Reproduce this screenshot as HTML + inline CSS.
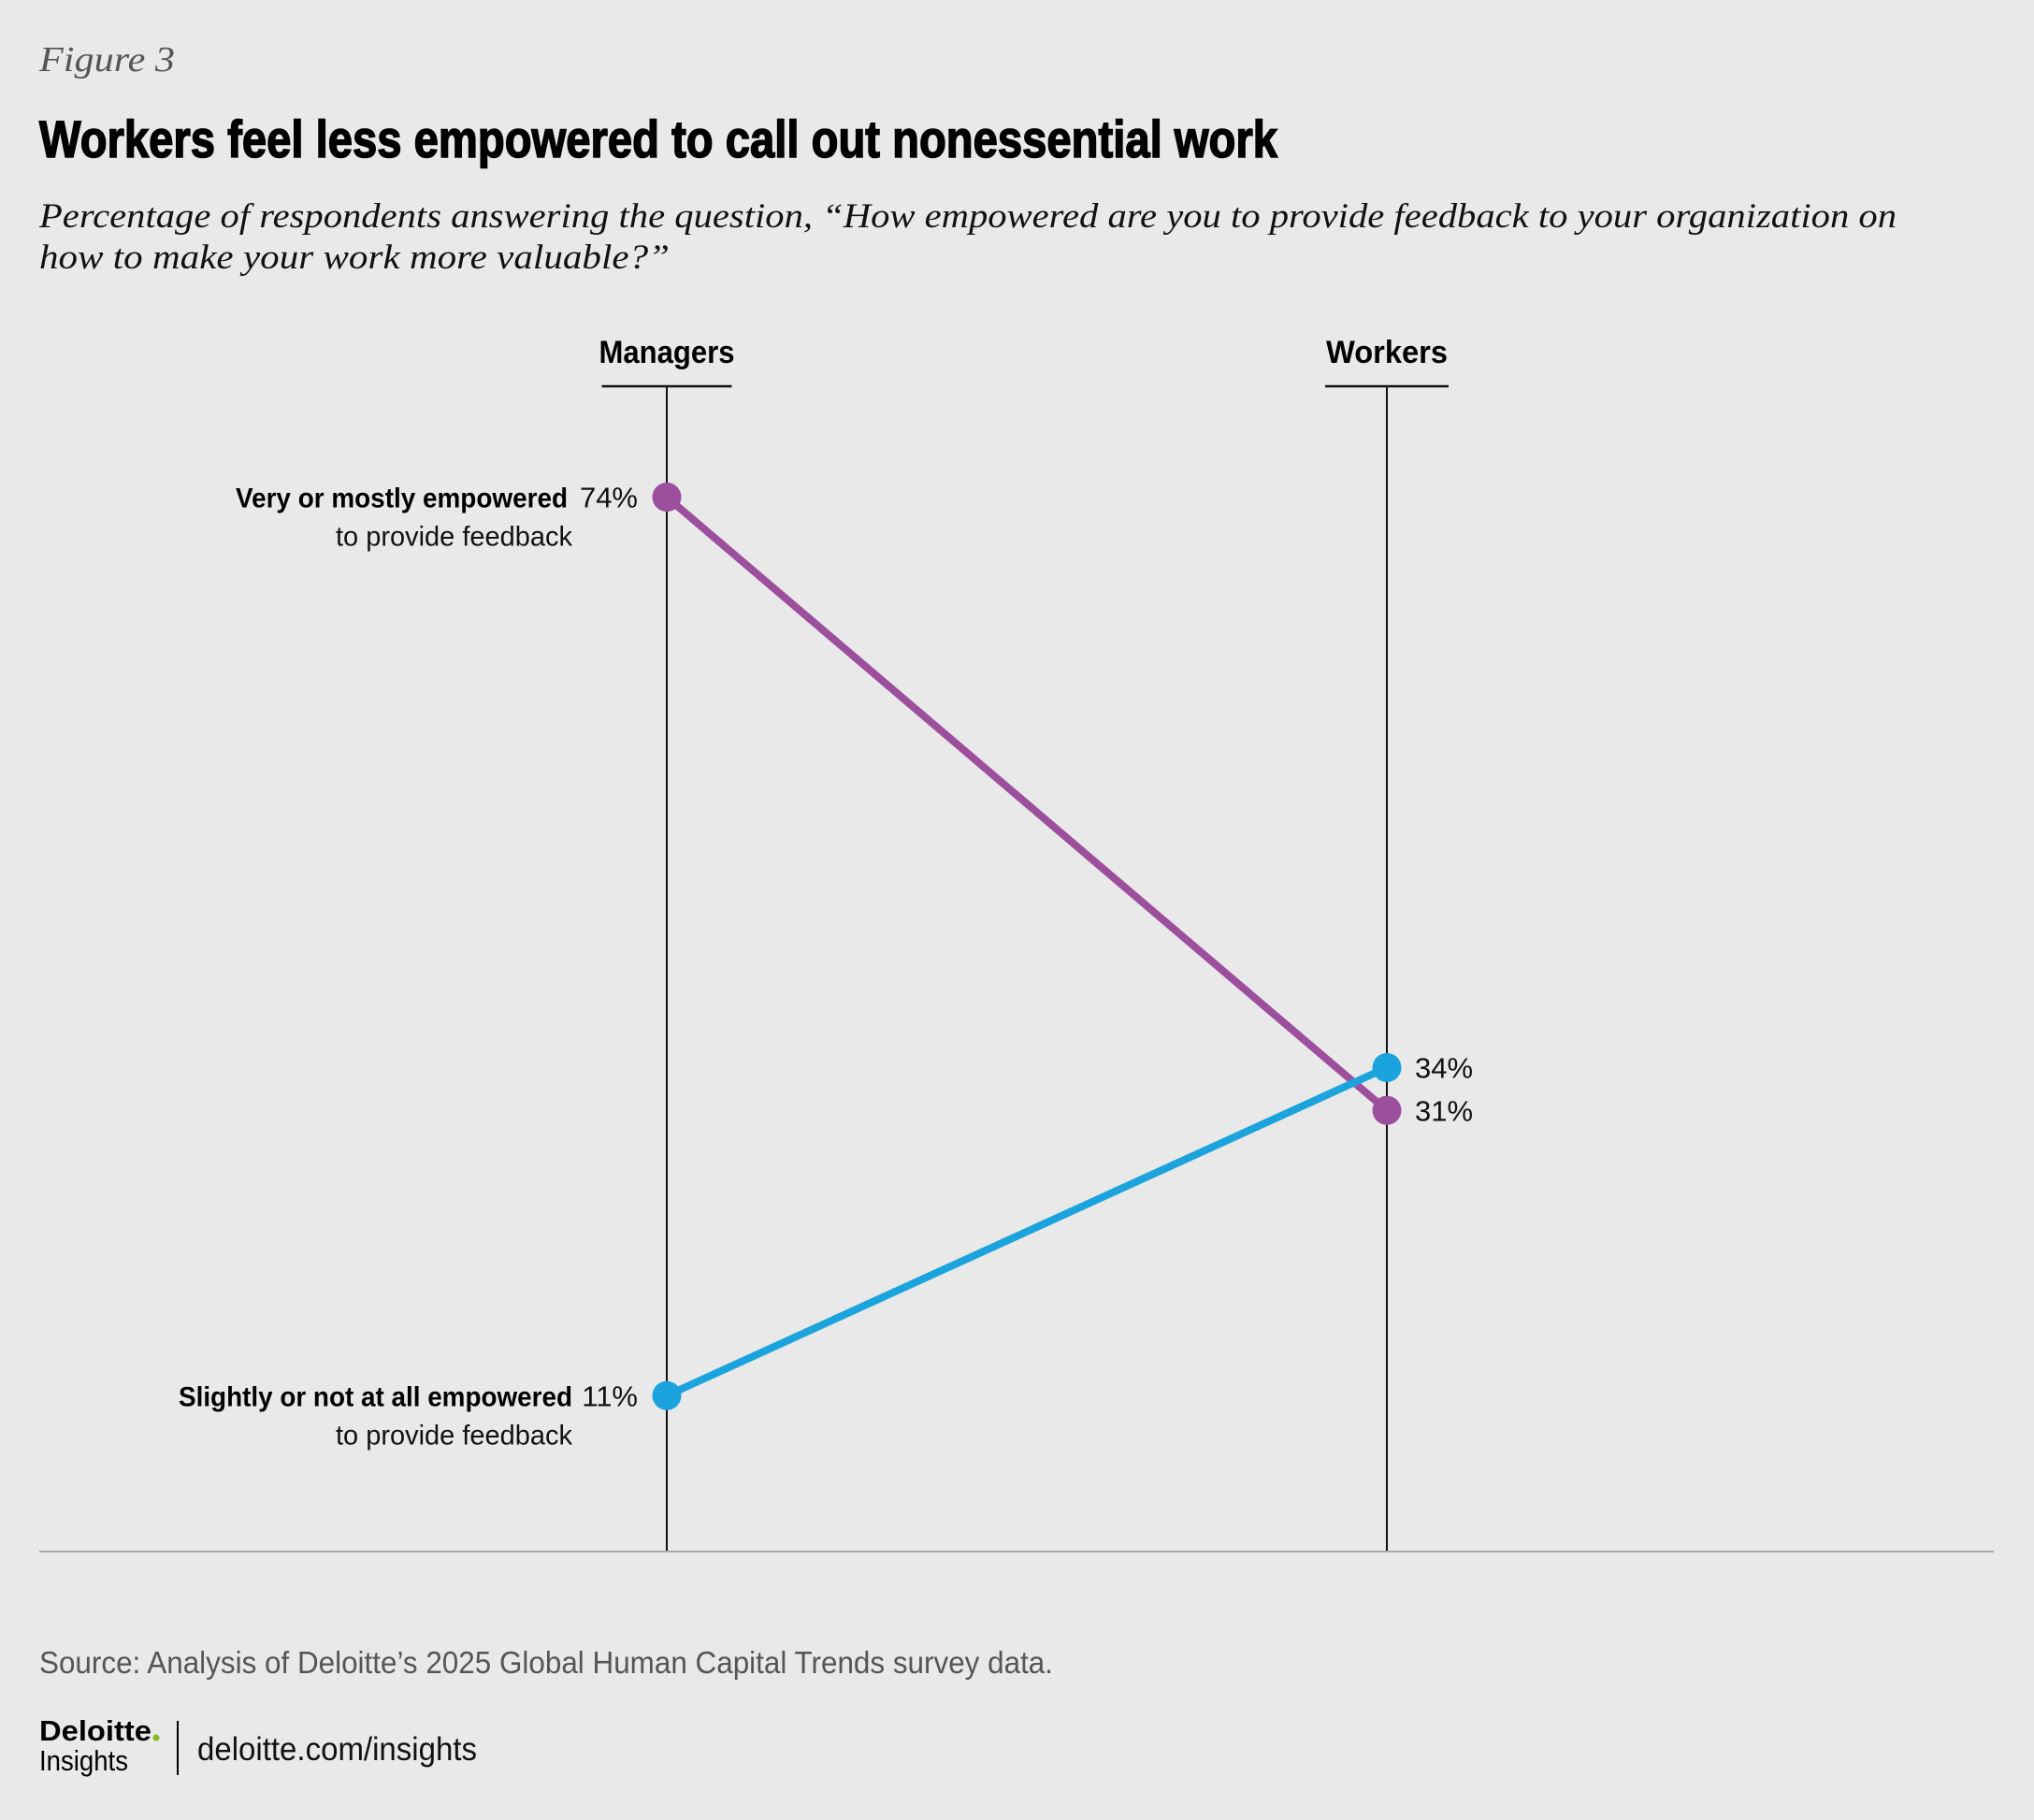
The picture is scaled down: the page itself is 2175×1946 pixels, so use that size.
<!DOCTYPE html>
<html><head><meta charset="utf-8"><style>
html,body{margin:0;padding:0;background:#e8e9e8;}
svg{display:block;}
.cond{font-family:"Liberation Sans Narrow","Liberation Sans",sans-serif;}
.serif{font-family:"Liberation Serif",serif;font-style:italic;}
</style></head><body>
<svg id="chart" width="2175" height="1946" viewBox="0 0 2175 1946" xmlns="http://www.w3.org/2000/svg">
<rect x="0" y="0" width="2175" height="1946" fill="#e8e9e8"/>
<text x="42" y="76" class="serif" font-size="38" fill="#555" textLength="145" lengthAdjust="spacingAndGlyphs">Figure 3</text>
<text x="42" y="168" class="cond" font-weight="bold" font-size="56" fill="#000" stroke="#000" stroke-width="1.6" textLength="1324" lengthAdjust="spacingAndGlyphs">Workers feel less empowered to call out nonessential work</text>
<text x="42" y="243" class="serif" font-size="37" fill="#111" textLength="1986" lengthAdjust="spacingAndGlyphs">Percentage of respondents answering the question, “How empowered are you to provide feedback to your organization on</text>
<text x="42" y="287" class="serif" font-size="37" fill="#111" textLength="674" lengthAdjust="spacingAndGlyphs">how to make your work more valuable?”</text>
<g id="plot"></g>
<line x1="42" y1="1659" x2="2132" y2="1659" stroke="#aaa" stroke-width="2"/>
<text x="42" y="1789" class="cond" font-size="33" fill="#555" textLength="1084" lengthAdjust="spacingAndGlyphs">Source: Analysis of Deloitte’s 2025 Global Human Capital Trends survey data.</text>
<text x="42" y="1861" class="cond" font-weight="bold" font-size="31" fill="#000" textLength="120" lengthAdjust="spacingAndGlyphs">Deloitte</text>
<circle cx="167" cy="1858" r="3.5" fill="#86bc25"/>
<text x="42" y="1893" class="cond" font-size="31" fill="#000" textLength="95" lengthAdjust="spacingAndGlyphs">Insights</text>
<line x1="190" y1="1840" x2="190" y2="1898" stroke="#000" stroke-width="2"/>
<text x="211" y="1882" class="cond" font-size="35" fill="#111" textLength="299" lengthAdjust="spacingAndGlyphs">deloitte.com/insights</text>
</svg>
<script>
const groups = ["Managers", "Workers"];
const seriesNames = ["Very or mostly empowered", "Slightly or not at all empowered"];
const veryValues = [74, 31];
const slightlyValues = [11, 34];
const valueLabels = [["74%", "31%"], ["11%", "34%"]];
const NS = "http://www.w3.org/2000/svg";
const plot = document.getElementById("plot");
const xPos = i => 713 + i * 770;
const yPos = v => 1660 - v * 15.25;
function mk(tag, attrs, text) {
  const e = document.createElementNS(NS, tag);
  for (const k in attrs) e.setAttribute(k, attrs[k]);
  if (text !== undefined) e.textContent = text;
  plot.appendChild(e);
  return e;
}
groups.forEach((g, i) => {
  const x = xPos(i);
  const ax = mk("line", {x1: x, y1: 413, x2: x, y2: 1659, stroke: "#111", "stroke-width": 2});
  
  
  const w = i === 0 ? 139 : 132;
  const ul = mk("line", {x1: x - w / 2, y1: 413, x2: x + w / 2, y2: 413, stroke: "#111", "stroke-width": 2.5});
  
  
  const t = mk("text", {x: x, y: 388, "text-anchor": "middle", class: "cond", "font-weight": "bold", "font-size": 34, fill: "#000", textLength: i === 0 ? 145 : 130, lengthAdjust: "spacingAndGlyphs"}, g);
  
  
});
const series = [
  {vals: veryValues, color: "#9c4f9c", key: "very", labels: valueLabels[0]},
  {vals: slightlyValues, color: "#1aa3dc", key: "slightly", labels: valueLabels[1]}
];
series.forEach((s, si) => {
  const ln = mk("line", {x1: xPos(0), y1: yPos(s.vals[0]), x2: xPos(1), y2: yPos(s.vals[1]), stroke: s.color, "stroke-width": 8});
  
  
});
series.forEach((s, si) => {
  s.vals.forEach((v, i) => {
    const c = mk("circle", {cx: xPos(i), cy: yPos(v), r: 15.5, fill: s.color});
    
    
    const lbl = i === 0
      ? mk("text", {x: xPos(i) - 31, y: yPos(v) + 11, "text-anchor": "end", class: "cond", "font-size": 31, fill: "#111"}, s.labels[i])
      : mk("text", {x: xPos(i) + 30, y: yPos(v) + 11, "text-anchor": "start", class: "cond", "font-size": 31, fill: "#111"}, s.labels[i]);
    
    
  });
  const y0 = yPos(s.vals[0]);
  const n1 = mk("text", {x: si === 0 ? 607 : 612, y: y0 + 11, "text-anchor": "end", class: "cond", "font-weight": "bold", "font-size": 30, fill: "#000", textLength: si === 0 ? 355 : 421, lengthAdjust: "spacingAndGlyphs"}, seriesNames[si]);
  
  
  const n2 = mk("text", {x: 612, y: y0 + 52, "text-anchor": "end", class: "cond", "font-size": 30, fill: "#111", textLength: 253, lengthAdjust: "spacingAndGlyphs"}, "to provide feedback");
  
  
});
</script>
</body></html>
